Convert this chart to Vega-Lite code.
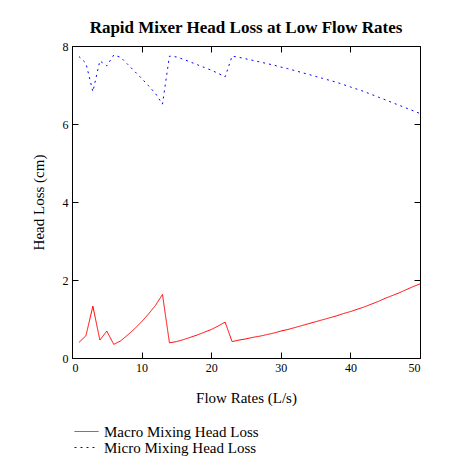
{
  "$schema": "https://vega.github.io/schema/vega-lite/v6.json",
  "description": "Rapid mixer head loss at low flow rates",
  "width": 348,
  "height": 312,
  "autosize": {"type": "none"},
  "padding": {"left": 72, "top": 46, "right": 51, "bottom": 116},
  "background": "white",
  "title": {
    "text": "Rapid Mixer Head Loss at Low Flow Rates",
    "font": "Liberation Serif",
    "fontSize": 17,
    "fontWeight": "bold",
    "color": "black",
    "anchor": "middle",
    "offset": 3
  },
  "config": {
    "view": {"stroke": "black", "strokeWidth": 1},
    "font": "Liberation Serif",
    "axis": {
      "domain": false,
      "grid": false,
      "tickColor": "black",
      "tickSize": -6,
      "labelFont": "Liberation Serif",
      "labelFontSize": 12,
      "labelColor": "black",
      "titleFont": "Liberation Serif",
      "titleFontSize": 15,
      "titleFontWeight": "normal",
      "titleColor": "black"
    },
    "legend": {
      "labelFont": "Liberation Serif",
      "labelFontSize": 15,
      "labelColor": "black"
    }
  },
  "data": {
    "values": [
      {"flow": 1, "series": "Macro Mixing Head Loss", "loss": 0.40},
      {"flow": 2, "series": "Macro Mixing Head Loss", "loss": 0.57},
      {"flow": 3, "series": "Macro Mixing Head Loss", "loss": 1.33},
      {"flow": 4, "series": "Macro Mixing Head Loss", "loss": 0.46},
      {"flow": 5, "series": "Macro Mixing Head Loss", "loss": 0.69},
      {"flow": 6, "series": "Macro Mixing Head Loss", "loss": 0.35},
      {"flow": 7, "series": "Macro Mixing Head Loss", "loss": 0.44},
      {"flow": 8, "series": "Macro Mixing Head Loss", "loss": 0.59},
      {"flow": 9, "series": "Macro Mixing Head Loss", "loss": 0.75},
      {"flow": 10, "series": "Macro Mixing Head Loss", "loss": 0.93},
      {"flow": 11, "series": "Macro Mixing Head Loss", "loss": 1.13},
      {"flow": 12, "series": "Macro Mixing Head Loss", "loss": 1.35},
      {"flow": 13, "series": "Macro Mixing Head Loss", "loss": 1.63},
      {"flow": 14, "series": "Macro Mixing Head Loss", "loss": 0.39},
      {"flow": 15, "series": "Macro Mixing Head Loss", "loss": 0.42},
      {"flow": 16, "series": "Macro Mixing Head Loss", "loss": 0.47},
      {"flow": 17, "series": "Macro Mixing Head Loss", "loss": 0.53},
      {"flow": 18, "series": "Macro Mixing Head Loss", "loss": 0.59},
      {"flow": 19, "series": "Macro Mixing Head Loss", "loss": 0.66},
      {"flow": 20, "series": "Macro Mixing Head Loss", "loss": 0.73},
      {"flow": 21, "series": "Macro Mixing Head Loss", "loss": 0.82},
      {"flow": 22, "series": "Macro Mixing Head Loss", "loss": 0.92},
      {"flow": 23, "series": "Macro Mixing Head Loss", "loss": 0.42},
      {"flow": 24, "series": "Macro Mixing Head Loss", "loss": 0.46},
      {"flow": 25, "series": "Macro Mixing Head Loss", "loss": 0.49},
      {"flow": 26, "series": "Macro Mixing Head Loss", "loss": 0.53},
      {"flow": 27, "series": "Macro Mixing Head Loss", "loss": 0.56},
      {"flow": 28, "series": "Macro Mixing Head Loss", "loss": 0.60},
      {"flow": 29, "series": "Macro Mixing Head Loss", "loss": 0.64},
      {"flow": 30, "series": "Macro Mixing Head Loss", "loss": 0.69},
      {"flow": 31, "series": "Macro Mixing Head Loss", "loss": 0.73},
      {"flow": 32, "series": "Macro Mixing Head Loss", "loss": 0.78},
      {"flow": 33, "series": "Macro Mixing Head Loss", "loss": 0.83},
      {"flow": 34, "series": "Macro Mixing Head Loss", "loss": 0.88},
      {"flow": 35, "series": "Macro Mixing Head Loss", "loss": 0.93},
      {"flow": 36, "series": "Macro Mixing Head Loss", "loss": 0.98},
      {"flow": 37, "series": "Macro Mixing Head Loss", "loss": 1.03},
      {"flow": 38, "series": "Macro Mixing Head Loss", "loss": 1.08},
      {"flow": 39, "series": "Macro Mixing Head Loss", "loss": 1.14},
      {"flow": 40, "series": "Macro Mixing Head Loss", "loss": 1.19},
      {"flow": 41, "series": "Macro Mixing Head Loss", "loss": 1.25},
      {"flow": 42, "series": "Macro Mixing Head Loss", "loss": 1.31},
      {"flow": 43, "series": "Macro Mixing Head Loss", "loss": 1.38},
      {"flow": 44, "series": "Macro Mixing Head Loss", "loss": 1.45},
      {"flow": 45, "series": "Macro Mixing Head Loss", "loss": 1.53},
      {"flow": 46, "series": "Macro Mixing Head Loss", "loss": 1.60},
      {"flow": 47, "series": "Macro Mixing Head Loss", "loss": 1.67},
      {"flow": 48, "series": "Macro Mixing Head Loss", "loss": 1.75},
      {"flow": 49, "series": "Macro Mixing Head Loss", "loss": 1.83},
      {"flow": 50, "series": "Macro Mixing Head Loss", "loss": 1.90},
      {"flow": 1, "series": "Micro Mixing Head Loss", "loss": 7.73},
      {"flow": 2, "series": "Micro Mixing Head Loss", "loss": 7.56},
      {"flow": 3, "series": "Micro Mixing Head Loss", "loss": 6.83},
      {"flow": 4, "series": "Micro Mixing Head Loss", "loss": 7.62},
      {"flow": 5, "series": "Micro Mixing Head Loss", "loss": 7.49},
      {"flow": 6, "series": "Micro Mixing Head Loss", "loss": 7.77},
      {"flow": 7, "series": "Micro Mixing Head Loss", "loss": 7.71},
      {"flow": 8, "series": "Micro Mixing Head Loss", "loss": 7.53},
      {"flow": 9, "series": "Micro Mixing Head Loss", "loss": 7.35},
      {"flow": 10, "series": "Micro Mixing Head Loss", "loss": 7.17},
      {"flow": 11, "series": "Micro Mixing Head Loss", "loss": 6.98},
      {"flow": 12, "series": "Micro Mixing Head Loss", "loss": 6.78},
      {"flow": 13, "series": "Micro Mixing Head Loss", "loss": 6.51},
      {"flow": 14, "series": "Micro Mixing Head Loss", "loss": 7.74},
      {"flow": 15, "series": "Micro Mixing Head Loss", "loss": 7.72},
      {"flow": 16, "series": "Micro Mixing Head Loss", "loss": 7.66},
      {"flow": 17, "series": "Micro Mixing Head Loss", "loss": 7.59},
      {"flow": 18, "series": "Micro Mixing Head Loss", "loss": 7.52},
      {"flow": 19, "series": "Micro Mixing Head Loss", "loss": 7.45},
      {"flow": 20, "series": "Micro Mixing Head Loss", "loss": 7.38},
      {"flow": 21, "series": "Micro Mixing Head Loss", "loss": 7.30},
      {"flow": 22, "series": "Micro Mixing Head Loss", "loss": 7.21},
      {"flow": 23, "series": "Micro Mixing Head Loss", "loss": 7.74},
      {"flow": 24, "series": "Micro Mixing Head Loss", "loss": 7.71},
      {"flow": 25, "series": "Micro Mixing Head Loss", "loss": 7.67},
      {"flow": 26, "series": "Micro Mixing Head Loss", "loss": 7.63},
      {"flow": 27, "series": "Micro Mixing Head Loss", "loss": 7.59},
      {"flow": 28, "series": "Micro Mixing Head Loss", "loss": 7.55},
      {"flow": 29, "series": "Micro Mixing Head Loss", "loss": 7.51},
      {"flow": 30, "series": "Micro Mixing Head Loss", "loss": 7.46},
      {"flow": 31, "series": "Micro Mixing Head Loss", "loss": 7.42},
      {"flow": 32, "series": "Micro Mixing Head Loss", "loss": 7.37},
      {"flow": 33, "series": "Micro Mixing Head Loss", "loss": 7.32},
      {"flow": 34, "series": "Micro Mixing Head Loss", "loss": 7.27},
      {"flow": 35, "series": "Micro Mixing Head Loss", "loss": 7.22},
      {"flow": 36, "series": "Micro Mixing Head Loss", "loss": 7.17},
      {"flow": 37, "series": "Micro Mixing Head Loss", "loss": 7.12},
      {"flow": 38, "series": "Micro Mixing Head Loss", "loss": 7.07},
      {"flow": 39, "series": "Micro Mixing Head Loss", "loss": 7.01},
      {"flow": 40, "series": "Micro Mixing Head Loss", "loss": 6.95},
      {"flow": 41, "series": "Micro Mixing Head Loss", "loss": 6.89},
      {"flow": 42, "series": "Micro Mixing Head Loss", "loss": 6.83},
      {"flow": 43, "series": "Micro Mixing Head Loss", "loss": 6.76},
      {"flow": 44, "series": "Micro Mixing Head Loss", "loss": 6.69},
      {"flow": 45, "series": "Micro Mixing Head Loss", "loss": 6.62},
      {"flow": 46, "series": "Micro Mixing Head Loss", "loss": 6.55},
      {"flow": 47, "series": "Micro Mixing Head Loss", "loss": 6.48},
      {"flow": 48, "series": "Micro Mixing Head Loss", "loss": 6.41},
      {"flow": 49, "series": "Micro Mixing Head Loss", "loss": 6.34},
      {"flow": 50, "series": "Micro Mixing Head Loss", "loss": 6.27}
    ]
  },
  "layer": [
    {
      "mark": {"type": "line", "strokeWidth": 1},
      "encoding": {
        "x": {
          "field": "flow",
          "type": "quantitative",
          "scale": {"domain": [0, 50], "nice": false},
          "axis": {
            "orient": "bottom",
            "values": [0, 10, 20, 30, 40, 50],
            "labelPadding": 10,
            "title": "Flow Rates (L/s)",
            "titlePadding": 17
          }
        },
        "y": {
          "field": "loss",
          "type": "quantitative",
          "scale": {"domain": [0, 8], "nice": false},
          "axis": {
            "orient": "left",
            "values": [0, 2, 4, 6, 8],
            "labelPadding": 10,
            "title": "Head Loss (cm)",
            "titlePadding": 16
          }
        },
        "color": {
          "field": "series",
          "type": "nominal",
          "scale": {
            "domain": ["Macro Mixing Head Loss", "Micro Mixing Head Loss"],
            "range": ["#ff0000", "#0000ff"]
          },
          "legend": {
            "orient": "none",
            "legendX": 7,
            "legendY": 378,
            "title": null,
            "symbolType": "M-2,0H2",
            "symbolSize": 144,
            "symbolStrokeWidth": 1,
            "labelOffset": 10,
            "rowPadding": 0,
            "padding": 0
          }
        },
        "strokeDash": {
          "field": "series",
          "type": "nominal",
          "scale": {
            "domain": ["Macro Mixing Head Loss", "Micro Mixing Head Loss"],
            "range": [[1, 0], [2, 4]]
          },
          "legend": {
            "orient": "none",
            "legendX": 7,
            "legendY": 378,
            "title": null,
            "symbolType": "M-2,0H2",
            "symbolSize": 144,
            "symbolStrokeWidth": 1,
            "labelOffset": 10,
            "rowPadding": 0,
            "padding": 0
          }
        }
      }
    },
    {
      "mark": {"type": "line", "strokeOpacity": 0},
      "encoding": {
        "x": {
          "field": "flow",
          "type": "quantitative",
          "axis": {
            "orient": "top",
            "values": [0, 10, 20, 30, 40, 50],
            "labels": false,
            "title": null
          }
        },
        "y": {
          "field": "loss",
          "type": "quantitative",
          "axis": {
            "orient": "right",
            "values": [0, 2, 4, 6, 8],
            "labels": false,
            "title": null
          }
        },
        "detail": {"field": "series", "type": "nominal"}
      }
    }
  ],
  "resolve": {"axis": {"x": "independent", "y": "independent"}}
}
